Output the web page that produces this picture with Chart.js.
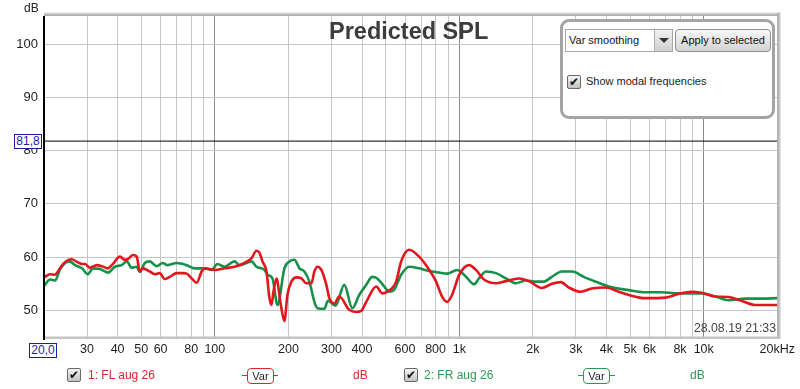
<!DOCTYPE html>
<html>
<head>
<meta charset="utf-8">
<script src="https://cdn.jsdelivr.net/npm/chart.js@4.4.1/dist/chart.umd.min.js"></script>
<style>
body { margin: 0; background: #fff; font-family: "Liberation Sans", Arial, sans-serif; }
#wrap { position: relative; width: 800px; height: 389px; overflow: hidden; }
#wrap canvas { position: absolute; left: 0; top: 0; }
.abs { position: absolute; white-space: nowrap; }
.mark { border: 1px solid #1c1ca6; color: #1c1ca6; background: #fff; font-size: 12px; line-height: 13px; text-align: center; box-sizing: border-box; width: 28px; height: 15px; }
.cb { width: 14px; height: 14px; box-sizing: border-box; border: 1px solid #6a6a6a; border-radius: 2px; background: linear-gradient(#f6f6f6, #c2c2c2); font-size: 12px; line-height: 12px; text-align: center; font-weight: bold; color: #111; font-family: "DejaVu Sans", sans-serif; }
.varline { height: 1px; }
.varbox { box-sizing: border-box; width: 27px; height: 16px; border-radius: 4px; background: #fff; font-size: 11px; line-height: 14px; text-align: center; color: #222; }
</style>
</head>
<body>
<div id="wrap">
  <canvas id="spl" width="800" height="389"></canvas>

  <div class="abs" style="left:24px;top:1px;font-size:12px;color:#222">dB</div>
  <div class="abs" style="left:329px;top:18px;font-size:23.5px;font-weight:bold;color:#3c3c3c">Predicted SPL</div>
  <div class="abs mark" style="left:14px;top:134px">81,8</div>
  <div class="abs mark" style="left:29px;top:343px">20,0</div>
  <div class="abs" style="right:24px;top:321px;font-size:12.3px;color:#444">28.08.19 21:33</div>

  <!-- smoothing panel -->
  <div class="abs" style="left:560px;top:19px;width:215px;height:100px;box-sizing:border-box;border:3px solid #a4a4a4;border-radius:9px;background:#fff"></div>
  <div class="abs" style="left:565px;top:29px;width:108px;height:23px;box-sizing:border-box;border:1px solid #a8a8a8;background:#fff;font-size:11px;line-height:21px;padding-left:3px;color:#111">Var smoothing</div>
  <div class="abs" style="left:654px;top:30px;width:18px;height:21px;box-sizing:border-box;border-left:1px solid #b0b0b0;background:linear-gradient(#f2f2f2,#cfcfcf)">
    <div style="position:absolute;left:4px;top:8px;width:0;height:0;border-left:5px solid transparent;border-right:5px solid transparent;border-top:5px solid #333"></div>
  </div>
  <div class="abs" style="left:675px;top:29px;width:96px;height:23px;box-sizing:border-box;border:1px solid #8e8e8e;border-radius:4px;background:linear-gradient(#f8f8f8,#d2d2d2);font-size:11px;line-height:21px;text-align:center;color:#111">Apply to selected</div>
  <div class="abs cb" style="left:567px;top:75px">&#10004;</div>
  <div class="abs" style="left:586px;top:74px;font-size:11px;line-height:15px;color:#222">Show modal frequencies</div>

  <!-- legend row -->
  <div class="abs cb" style="left:67px;top:368px">&#10004;</div>
  <div class="abs" style="left:88px;top:367px;font-size:12px;line-height:16px;color:#d8262c">1: FL aug 26</div>
  <div class="abs varline" style="left:242px;top:375px;width:36px;background:#d8262c"></div>
  <div class="abs varbox" style="left:247px;top:368px;border:1px solid #d8262c">Var</div>
  <div class="abs" style="left:353px;top:367px;font-size:12px;line-height:16px;color:#d8262c">dB</div>

  <div class="abs cb" style="left:404px;top:368px">&#10004;</div>
  <div class="abs" style="left:424px;top:367px;font-size:12px;line-height:16px;color:#2a9a55">2: FR aug 26</div>
  <div class="abs varline" style="left:578px;top:375px;width:37px;background:#2a9a55"></div>
  <div class="abs varbox" style="left:583px;top:368px;border:1px solid #2a9a55">Var</div>
  <div class="abs" style="left:690px;top:367px;font-size:12px;line-height:16px;color:#2a9a55">dB</div>
</div>

<script>
// frequency axis grid (Hz) and which of them carry a label
const xGrid = [20, 30, 40, 50, 60, 70, 80, 90, 100, 200, 300, 400, 500, 600, 700, 800, 900,
               1000, 2000, 3000, 4000, 5000, 6000, 7000, 8000, 9000, 10000, 20000];
const xLabels = { 30: '30', 40: '40', 50: '50', 60: '60', 80: '80', 100: '100', 200: '200',
                  300: '300', 400: '400', 600: '600', 800: '800', 1000: '1k', 2000: '2k',
                  3000: '3k', 4000: '4k', 5000: '5k', 6000: '6k', 8000: '8k', 10000: '10k', 20000: '20kHz' };
const yTicks = [50, 60, 70, 80, 90, 100];
const refLevel = 81.8;

// 1: FL aug 26 (red)
const freqFL = [20, 21.2, 22.2, 22.8, 23.9, 26.0, 27.3, 28.6, 29.4, 30.8, 32.9, 34.5, 36.5, 38.2,
  40.9, 42.8, 44.0, 46.2, 47.9, 49.3, 50.7, 54.2, 56.8, 59.5, 62.4, 65.4, 69.8, 73.9, 76.7,
  80.4, 84.3, 88.3, 90.8, 100, 109.6, 120.4, 132.3, 141.3, 148.0, 152.3, 156.6, 162.6, 167.3,
  170.5, 173.7, 178.7, 185.5, 192.6, 198.1, 205.7, 216, 226, 236.9, 248.3, 255.4, 262.7, 272.8,
  285.9, 294, 308.2, 322.9, 354.8, 379, 397.2, 416.4, 457.4, 483.8, 507.1, 551.8, 578.4, 623.6,
  684.8, 738.6, 803.8, 850.4, 891.4, 934.2, 1000, 1096, 1170, 1262, 1413, 1552, 1753, 1926,
  2176, 2392, 2602, 2806, 3140, 3482, 3973, 4488, 4932, 5784, 6981, 7890, 8914, 9790, 11170,
  12619, 14260, 16270, 20000];
const splFL = [56.2, 56.8, 56.7, 57.3, 58.7, 59.6, 59.1, 58.7, 58.7, 58.0, 58.5, 58.3, 57.9, 58.7,
  60.1, 59.5, 59.6, 60.4, 60.1, 57.3, 57.9, 57.3, 56.8, 57.0, 55.9, 56.3, 57.0, 57.0, 56.9,
  56.0, 55.2, 57.3, 57.9, 57.6, 57.9, 58.2, 58.9, 59.8, 61.2, 60.8, 59.2, 57.3, 52.3,
  51.0, 53.5, 56.0, 51.5, 48.0, 52.9, 55.4, 56.2, 56.0, 55.1, 55.1, 57.3, 58.2, 57.6,
  54.8, 52.3, 51.3, 52.6, 50.1, 49.7, 49.9, 51.6, 54.5, 53.2, 53.5, 55.4, 59.2, 61.4,
  60.1, 58.2, 55.4, 52.6, 51.6, 52.9, 56.7, 58.5, 57.6, 55.8, 55.1, 55.5, 56.0, 55.5,
  54.2, 55.0, 55.3, 54.3, 53.5, 54.1, 54.3, 53.5, 52.9, 52.3, 52.4, 53.1, 53.5, 53.3, 52.6,
  52.5, 51.8, 51.0, 51.0];

// 2: FR aug 26 (green)
const freqFR = [20, 21.2, 22.2, 23.2, 24.4, 25.5, 26.8, 28.6, 30.2, 31.7, 33.8, 36.5, 39.0, 41.6,
  43.6, 45.7, 47.9, 49.3, 51.7, 54.2, 57.9, 61.2, 64.1, 69.8, 76.7, 82.7, 90.8, 97.0, 102.6,
  109.6, 120.4, 126.2, 141.3, 148.0, 159.6, 164.2, 172.1, 180.4, 192.6, 201.9, 211.6, 221.8,
  232.4, 243.6, 255.4, 262.7, 280.6, 290, 312, 338.5, 365.0, 389.8, 416.4, 440.4, 461.8, 493.0,
  516.8, 541.7, 578.4, 623.6, 684.8, 752.8, 826.8, 891.4, 979.2, 1046, 1127, 1149, 1204, 1286,
  1413, 1552, 1704, 1873, 2057, 2218, 2392, 2627, 2900, 3230, 3616, 4086, 4932, 5784, 6722,
  7890, 9790, 11170, 12619, 14806, 17210, 20000];
const splFR = [54.6, 55.8, 55.6, 57.6, 58.9, 59.2, 58.5, 57.9, 56.8, 57.9, 57.8, 57.1, 58.2, 58.5,
  59.2, 58.0, 58.2, 57.2, 58.9, 59.2, 58.3, 58.9, 58.5, 58.9, 58.5, 57.9, 57.9, 57.6, 58.7,
  58.2, 59.2, 58.5, 59.2, 58.2, 57.6, 56.7, 56.0, 51.0, 57.9, 59.2, 59.5, 57.9,
  57.3, 55.4, 51.6, 50.4, 50.3, 51.8, 50.9, 54.8, 50.4, 52.9, 54.8, 56.3, 56.0, 54.5,
  53.5, 53.9, 56.7, 58.2, 57.9, 57.4, 57.1, 56.9, 57.6, 56.7, 55.1, 54.9, 56.0, 57.3,
  57.0, 56.0, 55.1, 55.6, 55.4, 55.4, 56.3, 57.3, 57.3, 56.3, 55.4, 54.5, 53.8, 53.4, 53.4,
  53.2, 53.2, 52.6, 51.9, 52.2, 52.2, 52.3];

const RED = '#e3161e';
const GREEN = '#17914a';
const decades = [100, 1000, 10000];

function points(fs, vs) {
  return fs.map((f, i) => ({ x: f, y: vs[i] }));
}

// 3D-ish frame round the plot and the black level axis
const frame = {
  id: 'frame',
  afterDraw(c) {
    const { ctx, chartArea: a } = c;
    ctx.save();
    let g = ctx.createLinearGradient(0, a.top - 4, 0, a.top);
    g.addColorStop(0, '#e6e6e6'); g.addColorStop(1, '#a6a6a6');
    ctx.fillStyle = g;
    ctx.fillRect(a.left, a.top - 3.5, a.right - a.left + 3, 3.5);
    g = ctx.createLinearGradient(a.right, 0, a.right + 4, 0);
    g.addColorStop(0, '#a6a6a6'); g.addColorStop(1, '#e6e6e6');
    ctx.fillStyle = g;
    ctx.fillRect(a.right, a.top - 3.5, 3.5, a.bottom - a.top + 5);
    ctx.fillStyle = '#c4c4c4';
    ctx.fillRect(a.left, a.bottom - 0.5, a.right - a.left + 3, 2.5);
    ctx.fillStyle = '#000';
    ctx.fillRect(a.left - 1, a.top, 2, a.bottom - a.top + 3);
    ctx.restore();
  }
};

new Chart(document.getElementById('spl'), {
  type: 'line',
  data: {
    datasets: [
      { label: '1: FL aug 26', data: points(freqFL, splFL), borderColor: RED, borderWidth: 2.6,
        pointRadius: 0, cubicInterpolationMode: 'monotone' },
      { label: '2: FR aug 26', data: points(freqFR, splFR), borderColor: GREEN, borderWidth: 2.6,
        pointRadius: 0, cubicInterpolationMode: 'monotone' },
      { label: 'level', data: [{ x: 20, y: refLevel }, { x: 20000, y: refLevel }], borderColor: '#000',
        borderWidth: 1, pointRadius: 0 }
    ]
  },
  options: {
    responsive: false,
    animation: false,
    layout: { padding: { top: 16, right: 21, left: 0, bottom: 0 } },
    plugins: { legend: { display: false }, tooltip: { enabled: false } },
    scales: {
      x: {
        type: 'logarithmic', min: 20, max: 20000,
        afterBuildTicks: s => { s.ticks = xGrid.map(v => ({ value: v })); },
        afterFit: s => { s.height = 52; },
        border: { display: false },
        grid: {
          drawTicks: false,
          color: c => decades.includes(c.tick && c.tick.value) ? '#8a8a8a' : '#c6c6c6'
        },
        ticks: {
          autoSkip: false, maxRotation: 0, minRotation: 0, padding: 5, color: '#1e1e1e',
          font: { family: 'Liberation Sans', size: 12.5 },
          callback: v => xLabels[v] || ''
        }
      },
      y: {
        min: 45, max: 105.3,
        afterBuildTicks: s => { s.ticks = yTicks.map(v => ({ value: v })); },
        afterFit: s => { s.width = 44; },
        border: { display: false },
        grid: { drawTicks: false, color: '#c6c6c6' },
        ticks: { padding: 6, color: '#1e1e1e', font: { family: 'Liberation Sans', size: 13 } }
      }
    }
  },
  plugins: [frame]
});
</script>
</body>
</html>
